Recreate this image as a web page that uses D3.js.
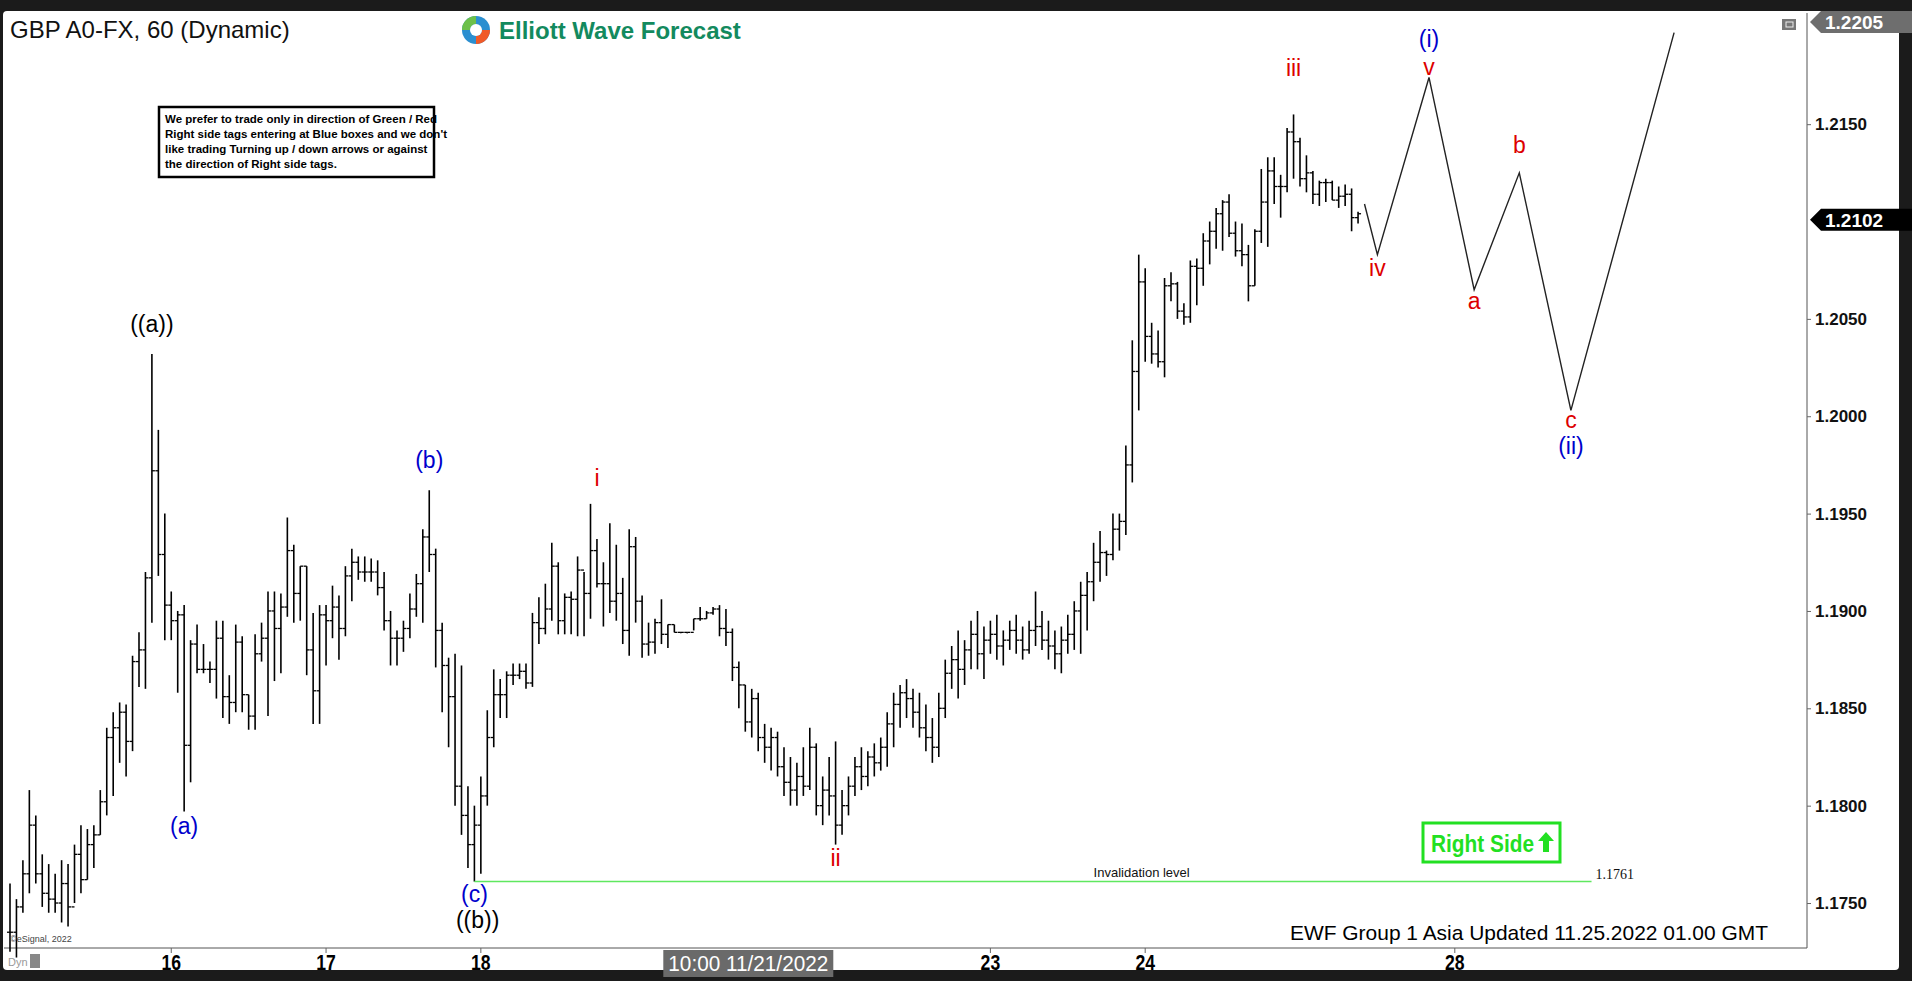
<!DOCTYPE html>
<html>
<head>
<meta charset="utf-8">
<script src="https://cdn.jsdelivr.net/npm/d3@7"></script>
<style>
  html, body { margin: 0; padding: 0; background: #000; }
  svg { display: block; font-family: "Liberation Sans", Arial, sans-serif; }
</style>
</head>
<body>
<svg width="1912" height="981"></svg>
<script>
// ---- DATA (hourly bars, GBPUSD) ----
const highs = [
  1.1760,1.1752,1.1772,1.1808,1.1795,1.1775,1.1770,1.1765,1.1772,1.1770,1.1780,1.1790,1.1788,1.1790,1.1808,1.1840,
  1.1848,1.1853,1.1852,1.1877,1.1889,1.1920,1.2032,1.1993,1.1950,1.1910,1.1900,1.1903,1.1885,1.1893,1.1883,1.1874,
  1.1895,1.1895,1.1867,1.1893,1.1887,1.1857,1.1888,1.1894,1.1910,1.1910,1.1909,1.1948,1.1934,1.1923,1.1923,1.1899,
  1.1903,1.1903,1.1913,1.1908,1.1923,1.1932,1.1928,1.1928,1.1927,1.1926,1.1920,1.1900,1.1890,
  1.1895,1.1909,1.1919,1.1942,1.1962,1.1932,1.1894,1.1876,1.1878,1.1872,1.1810,1.1800,1.1815,1.1849,1.1870,1.1865,
  1.1869,1.1873,1.1873,1.1873,1.1899,1.1907,1.1914,1.1935,1.1925,1.1909,1.1910,1.1928,1.1920,1.1955,1.1937,1.1925,
  1.1945,1.1934,1.1917,1.1942,1.1938,1.1908,1.1894,1.1896,1.1906,1.1893,1.1893,1.1889,1.1889,1.1896,1.1902,1.1900,
  1.1902,1.1903,1.1901,1.1891,1.1874,
  1.1862,1.1860,1.1858,1.1842,1.1840,1.1838,1.1830,1.1825,1.1822,1.1830,1.1840,1.1832,1.1815,1.1825,1.1833,1.1808,
  1.1815,1.1825,1.1830,1.1828,1.1832,1.1835,1.1848,1.1858,1.1862,1.1865,1.1860,1.1858,1.1852,1.1845,1.1858,1.1875,
  1.1882,1.1890,1.1885,1.1895,1.1900,1.1892,1.1895,1.1898,1.1890,1.1895,1.1898,1.1892,1.1895,1.1910,1.1900,1.1895,
  1.1890,1.1892,1.1898,1.1905,1.1915,1.1920,1.1935,
  1.1941,1.1931,1.1950,1.1950,1.1985,1.2039,1.2083,
  1.2076,1.2048,1.2044,1.2071,1.2074,1.2069,1.2058,1.2080,1.2081,1.2094,1.2100,1.2107,1.2111,1.2114,1.2100,1.2099,
  1.2088,1.2096,1.2127,1.2133,1.2133,1.2124,1.2148,1.2155,1.2143,1.2134,1.2126,1.2121,1.2122,1.2121,1.2118,1.2119,
  1.2117,1.2105
];
const lows = [
  1.1725,1.1722,1.1745,1.1755,1.1760,1.1748,1.1745,1.1745,1.1740,1.1738,1.1750,1.1755,1.1762,1.1768,1.1785,1.1795,
  1.1805,1.1822,1.1815,1.1828,1.1861,1.1860,1.1894,1.1918,1.1885,1.1885,1.1858,1.1797,1.1812,1.1868,1.1868,1.1863,
  1.1855,1.1845,1.1842,1.1848,1.1848,1.1839,1.1839,1.1874,1.1846,1.1864,1.1868,1.1897,1.1894,1.1895,1.1867,1.1842,
  1.1842,1.1872,1.1886,1.1875,1.1887,1.1905,1.1916,1.1915,1.1915,1.1908,1.1890,1.1872,1.1872,
  1.1879,1.1886,1.1897,1.1894,1.1920,1.1871,1.1848,1.1830,1.1800,1.1785,1.1768,1.1761,1.1765,1.1800,1.1830,1.1845,
  1.1845,1.1862,1.1865,1.1860,1.1861,1.1883,1.1888,1.1895,1.1888,1.1888,1.1888,1.1887,1.1887,1.1896,1.1912,1.1892,
  1.1899,1.1895,1.1883,1.1877,1.1894,1.1876,1.1877,1.1878,1.1883,1.1881,1.1889,1.1889,1.1889,1.1890,1.1895,1.1896,
  1.1898,1.1887,1.1882,1.1864,1.1850,
  1.1838,1.1835,1.1828,1.1822,1.1818,1.1815,1.1805,1.1800,1.1800,1.1805,1.1808,1.1795,1.1790,1.1795,1.1780,1.1785,
  1.1795,1.1805,1.1808,1.1810,1.1815,1.1818,1.1820,1.1830,1.1840,1.1845,1.1840,1.1835,1.1828,1.1822,1.1825,1.1845,
  1.1860,1.1855,1.1862,1.1870,1.1870,1.1865,1.1878,1.1875,1.1872,1.1880,1.1878,1.1875,1.1878,1.1882,1.1880,1.1875,
  1.1870,1.1868,1.1878,1.1880,1.1878,1.1890,1.1905,
  1.1915,1.1918,1.1926,1.1931,1.1939,1.1966,1.2003,
  1.2028,1.2027,1.2025,1.2020,1.2059,1.2050,1.2047,1.2048,1.2057,1.2067,1.2078,1.2086,1.2085,1.2092,1.2082,1.2077,
  1.2059,1.2067,1.2089,1.2087,1.2109,1.2102,1.2115,1.2122,1.2118,1.2115,1.2109,1.2108,1.2110,1.2111,1.2107,1.2108,
  1.2095,1.2099
];
const closes = [
  1.1735,1.1748,1.1765,1.1790,1.1765,1.1755,1.1752,1.1750,1.1760,1.1748,1.1775,1.1762,1.1780,1.1785,1.1802,1.1835,
  1.1840,1.1848,1.1833,1.1874,1.1880,1.1917,1.1972,1.1929,1.1903,1.1895,1.1898,1.1831,1.1883,1.1870,1.1870,1.1870,
  1.1886,1.1856,1.1853,1.1884,1.1857,1.1846,1.1878,1.1886,1.1900,1.1891,1.1902,1.1931,1.1909,1.1923,1.1880,1.1859,
  1.1898,1.1895,1.1902,1.1891,1.1918,1.1925,1.1920,1.1920,1.1920,1.1912,1.1895,1.1886,1.1886,
  1.1891,1.1901,1.1914,1.1938,1.1929,1.1890,1.1872,1.1856,1.1810,1.1795,1.1780,1.1790,1.1805,1.1835,1.1857,1.1857,
  1.1867,1.1867,1.1869,1.1863,1.1894,1.1891,1.1901,1.1923,1.1895,1.1907,1.1906,1.1921,1.1909,1.1931,1.1914,1.1914,
  1.1905,1.1909,1.1890,1.1933,1.1905,1.1883,1.1884,1.1894,1.1888,1.1893,1.1889,1.1889,1.1889,1.1896,1.1896,1.1899,
  1.1901,1.1891,1.1889,1.1871,1.1862,
  1.1843,1.1855,1.1835,1.1830,1.1835,1.1820,1.1812,1.1808,1.1815,1.1810,1.1830,1.1800,1.1808,1.1805,1.1790,1.1800,
  1.1810,1.1820,1.1815,1.1825,1.1822,1.1830,1.1842,1.1852,1.1858,1.1855,1.1848,1.1840,1.1835,1.1830,1.1850,1.1868,
  1.1875,1.1870,1.1880,1.1888,1.1878,1.1885,1.1888,1.1882,1.1885,1.1890,1.1885,1.1880,1.1890,1.1892,1.1885,1.1882,
  1.1878,1.1885,1.1888,1.1900,1.1908,1.1915,1.1925,
  1.1930,1.1929,1.1942,1.1946,1.1975,1.2023,1.2069,
  1.2041,1.2032,1.2028,1.2067,1.2068,1.2054,1.2051,1.2077,1.2076,1.2090,1.2095,1.2104,1.2110,1.2094,1.2085,1.2083,
  1.2067,1.2095,1.2110,1.2126,1.2118,1.2118,1.2146,1.2141,1.2122,1.2125,1.2114,1.2120,1.2120,1.2111,1.2113,1.2114,
  1.2102,1.2104
];

// projected path (bar index, price)
const projIdx = [210, 212, 220, 227, 234, 242, 258];
const projPrice = [1.2109, 1.2083, 1.2174, 1.2065, 1.2125, 1.2003, 1.2197];

// wave labels: text, bar index, price, colour, pixel offset
const waveText  = ["((a))", "(a)", "(b)", "(c)", "((b))", "i", "ii", "iii", "iv", "v", "(i)", "a", "b", "c", "(ii)"];
const waveIdx   = [22, 27, 65, 72, 72.5, 91, 128, 199, 212, 220, 220, 227, 234, 242, 242];
const wavePrice = [1.2032, 1.1797, 1.1962, 1.1761, 1.1761, 1.1955, 1.1780, 1.2155, 1.2083, 1.2174, 1.2174, 1.2065, 1.2125, 1.2003, 1.2003];
const waveColor = ["#000", "#0000cc", "#0000cc", "#0000cc", "#000", "#dd0000", "#dd0000", "#dd0000", "#dd0000", "#dd0000", "#0000cc", "#dd0000", "#dd0000", "#dd0000", "#0000cc"];
const waveDy    = [-22, 22, -22, 20, 46, -18, 21, -38, 21, -2, -30, 19, -20, 18, 44];

const yTicks = [1.2150, 1.2050, 1.2000, 1.1950, 1.1900, 1.1850, 1.1800, 1.1750];
const xTickIdx = [25, 49, 73, 176, 224];
const xTickLabel = ["16", "17", "18", "24", "28"];
const xTickIdx2 = [152];
const xTickLabel2 = ["23"];
const hlIdx = 114, hlLabel = "10:00 11/21/2022";

const invalidation = 1.1761, lastPrice = 1.2102, topPrice = 1.2205;

// ---- LAYOUT ----
const svg = d3.select("svg");
const plot = { left: 4, right: 1807, top: 13, bottom: 948 };

svg.append("rect").attr("width", 1912).attr("height", 981).attr("fill", "#1b1b1b");
svg.append("rect").attr("x", 3).attr("y", 11).attr("width", 1896).attr("height", 959).attr("rx", 4).attr("fill", "#fff");

// ---- SCALES ----
const x = d3.scaleLinear().domain([0, 1]).range([10, 16.45]);
const y = d3.scaleLinear().domain([1.17269, 1.22071]).range([plot.bottom, plot.top]);

// axes lines
svg.append("line").attr("x1", plot.right).attr("x2", plot.right).attr("y1", plot.top).attr("y2", plot.bottom)
  .attr("stroke", "#555");
svg.append("line").attr("x1", plot.left).attr("x2", plot.right).attr("y1", plot.bottom).attr("y2", plot.bottom)
  .attr("stroke", "#555");

// ---- RIGHT AXIS ----
const yAxis = d3.axisRight(y).tickValues(yTicks).tickFormat(d3.format(".4f")).tickSize(4).tickPadding(4);
const yAxisG = svg.append("g").attr("transform", `translate(${plot.right},0)`).call(yAxis);
yAxisG.select(".domain").remove();
yAxisG.selectAll("text").attr("font-size", 17).attr("font-weight", "bold").attr("fill", "#111");
yAxisG.selectAll("line").attr("stroke", "#666");

function priceTag(p, fill, color, yy) {
  const g = svg.append("g").attr("transform", `translate(${plot.right},${yy})`);
  g.append("path").attr("d", "M3,0 L14,-11 L105,-11 L105,11 L14,11 Z").attr("fill", fill);
  g.append("text").attr("x", 18).attr("y", 7).attr("font-size", 19).attr("font-weight", "bold")
    .attr("fill", color).text(d3.format(".4f")(p));
}
priceTag(topPrice, "#6e6e6e", "#fff", 22);
priceTag(lastPrice, "#000", "#fff", y(lastPrice) + 2);

// small icon
svg.append("rect").attr("x", 1782).attr("y", 19).attr("width", 14).attr("height", 11).attr("fill", "#777");
svg.append("rect").attr("x", 1786).attr("y", 22).attr("width", 7).attr("height", 5).attr("fill", "none").attr("stroke", "#eee");

// ---- X AXIS ----
const xLab = svg.append("g");
const allIdx = xTickIdx.concat(xTickIdx2), allLab = xTickLabel.concat(xTickLabel2);
allIdx.forEach((d, i) => {
  xLab.append("line").attr("x1", x(d)).attr("x2", x(d)).attr("y1", plot.bottom).attr("y2", plot.bottom + 5).attr("stroke", "#666");
  xLab.append("text").attr("x", x(d)).attr("y", 970).attr("text-anchor", "middle")
    .attr("font-size", 22).attr("font-weight", "bold").attr("fill", "#000")
    .attr("transform", `translate(${x(d)},0) scale(0.8,1) translate(${-x(d)},0)`).text(allLab[i]);
});
svg.append("rect").attr("x", x(hlIdx) - 82).attr("y", 950).attr("width", 170).attr("height", 27).attr("fill", "#6a6a6a");
svg.append("text").attr("x", x(hlIdx) + 3).attr("y", 971).attr("text-anchor", "middle").attr("font-size", 22)
  .attr("fill", "#fff").attr("textLength", 160).attr("lengthAdjust", "spacingAndGlyphs").text(hlLabel);
svg.append("text").attr("x", 8).attr("y", 966).attr("font-size", 11).attr("fill", "#999").text("Dyn");
svg.append("rect").attr("x", 30).attr("y", 954).attr("width", 10).attr("height", 14).attr("fill", "#888");

// ---- BARS ----
const bars = highs.map((h, i) => ({ i, h, l: lows[i], c: closes[i], o: i ? closes[i - 1] : closes[0] }));
const bg = svg.append("g").attr("stroke", "#000").attr("stroke-width", 1.6);
bg.selectAll(".v").data(bars).join("line")
  .attr("x1", d => x(d.i)).attr("x2", d => x(d.i))
  .attr("y1", d => y(d.h)).attr("y2", d => Math.max(y(d.l), y(d.h) + 1));
bg.selectAll(".o").data(bars).join("line").attr("stroke-width", 1.3)
  .attr("x1", d => x(d.i) - 3).attr("x2", d => x(d.i)).attr("y1", d => y(d.o)).attr("y2", d => y(d.o));
bg.selectAll(".c").data(bars).join("line").attr("stroke-width", 1.3)
  .attr("x1", d => x(d.i)).attr("x2", d => x(d.i) + 3).attr("y1", d => y(d.c)).attr("y2", d => y(d.c));

// ---- PROJECTION ----
const proj = projIdx.map((d, i) => [d, projPrice[i]]);
svg.append("path").datum(proj)
  .attr("d", d3.line().x(d => x(d[0])).y(d => y(d[1])))
  .attr("fill", "none").attr("stroke", "#222").attr("stroke-width", 1.4);

// ---- INVALIDATION ----
svg.append("line").attr("x1", x(72)).attr("x2", x(245.2)).attr("y1", y(invalidation)).attr("y2", y(invalidation))
  .attr("stroke", "#5fe85f").attr("stroke-width", 1.5);
svg.append("text").attr("x", x(168)).attr("y", y(invalidation) - 5).attr("font-size", 13).attr("fill", "#111")
  .text("Invalidation level");
svg.append("text").attr("x", x(245.8)).attr("y", y(invalidation) - 3).attr("font-size", 14)
  .attr("font-family", "'Liberation Serif', serif").attr("fill", "#111").text("1.1761");

// Right Side tag
const rs = svg.append("g").attr("transform", "translate(1423,823)");
rs.append("rect").attr("width", 137).attr("height", 39).attr("fill", "#fff").attr("stroke", "#22e022").attr("stroke-width", 3);
rs.append("text").attr("x", 8).attr("y", 29).attr("font-size", 23).attr("font-weight", "bold").attr("fill", "#22e022")
  .attr("textLength", 103).attr("lengthAdjust", "spacingAndGlyphs").text("Right Side");
rs.append("path").attr("d", "M123,9 L131,18 L126,18 L126,29 L120,29 L120,18 L115,18 Z").attr("fill", "#22e022");

// ---- WAVE LABELS ----
svg.append("g").selectAll("text").data(waveText).join("text")
  .attr("x", (d, i) => x(waveIdx[i])).attr("y", (d, i) => y(wavePrice[i]) + waveDy[i])
  .attr("text-anchor", "middle").attr("font-size", 23).attr("fill", (d, i) => waveColor[i]).text(d => d);

// ---- HEADER ----
svg.append("text").attr("x", 10).attr("y", 38).attr("font-size", 24).attr("fill", "#111").text("GBP A0-FX, 60 (Dynamic)");
const logo = svg.append("g").attr("transform", "translate(476,30)");
logo.append("circle").attr("r", 14).attr("fill", "#2b8fd0");
logo.append("path").attr("d", "M-14,0 A14,14 0 0,1 0,-14 L0,-6 A6,6 0 0,0 -6,0 Z").attr("fill", "#6cc04a");
logo.append("path").attr("d", "M14,0 A14,14 0 0,1 0,14 L0,6 A6,6 0 0,0 6,0 Z").attr("fill", "#f05a28");
logo.append("circle").attr("r", 6).attr("fill", "#fff");
svg.append("text").attr("x", 499).attr("y", 39).attr("font-size", 24).attr("font-weight", "bold").attr("fill", "#138a5e")
  .text("Elliott Wave Forecast");

// disclaimer box
const note = ["We prefer to trade only in direction of Green / Red",
  "Right side tags entering at Blue boxes and we don't",
  "like trading Turning up / down arrows or against",
  "the direction of Right side tags."];
const nb = svg.append("g").attr("transform", "translate(159,107)");
nb.append("rect").attr("width", 275).attr("height", 70).attr("fill", "#fff").attr("stroke", "#000").attr("stroke-width", 2.5);
nb.selectAll("text").data(note).join("text").attr("x", 6).attr("y", (d, i) => 16 + i * 15)
  .attr("font-size", 11.5).attr("font-weight", "bold").attr("fill", "#000").text(d => d);

// footer
svg.append("text").attr("x", 1768).attr("y", 940).attr("text-anchor", "end").attr("font-size", 21).attr("fill", "#000")
  .attr("textLength", 478).attr("lengthAdjust", "spacingAndGlyphs")
  .text("EWF Group 1 Asia Updated 11.25.2022 01.00 GMT");
svg.append("text").attr("x", 10).attr("y", 942).attr("font-size", 9).attr("fill", "#444").text("©eSignal, 2022");
</script>
</body>
</html>
